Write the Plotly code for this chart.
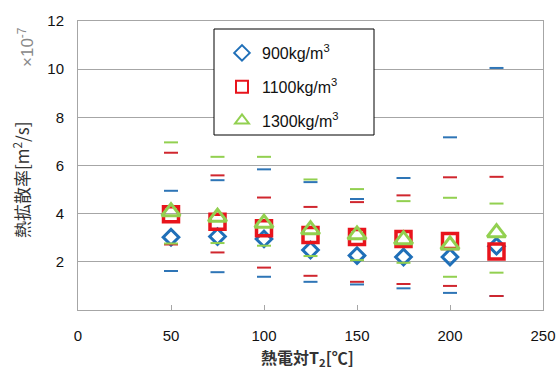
import plotly.graph_objects as go

# ---- data (values x 1e-7 m^2/s) ----
temps = [50, 75, 100, 125, 150, 175, 200, 225]

d900 = [3.02, 3.05, 2.95, 2.49, 2.26, 2.20, 2.20, 2.65]
d900_hi = [4.95, 5.39, 5.84, 5.31, 4.61, 5.48, 7.17, 10.05]
d900_lo = [1.62, 1.57, 1.38, 1.17, 1.06, 0.90, 0.71, 0.58]

d1100 = [3.98, 3.66, 3.39, 3.11, 3.03, 2.95, 2.87, 2.43]
d1100_hi = [6.53, 5.59, 4.67, 4.28, 4.48, 4.76, 5.51, 5.53]
d1100_lo = [2.72, 2.39, 1.76, 1.42, 1.17, 1.08, 1.00, 0.58]

d1300 = [4.08, 3.85, 3.60, 3.33, 3.12, 2.92, 2.70, 3.21]
d1300_hi = [6.96, 6.36, 6.36, 5.42, 5.02, 4.52, 4.66, 4.42]
d1300_lo = [2.76, 2.78, 2.67, 2.24, 2.07, 1.96, 1.38, 1.55]

names = ["900kg/m<sup>3</sup>", "1100kg/m<sup>3</sup>", "1300kg/m<sup>3</sup>"]
x_ticks = [0, 50, 100, 150, 200, 250]
y_ticks = [2, 4, 6, 8, 10, 12]

series = [
    (names[0], d900, d900_hi, d900_lo, "diamond-open", 12, 3, "#1F6FB8", "#2E75B6"),
    (names[1], d1100, d1100_hi, d1100_lo, "square-open", 15, 3.5, "#E8141C", "#D0262E"),
    (names[2], d1300, d1300_hi, d1300_lo, "triangle-up-open", 16, 3, "#92D050", "#92D050"),
]

fig = go.Figure()
for i, (nm, v, hi, lo, sym, sz, lw, col, ecol) in enumerate(series):
    fig.add_trace(go.Scatter(
        x=temps + temps, y=hi + lo, mode="markers", showlegend=False,
        hoverinfo="skip",
        marker=dict(symbol="line-ew", size=10, line=dict(width=2, color=ecol)),
    ))
    fig.add_trace(go.Scatter(
        x=temps, y=v, mode="markers", name=nm, legendgroup=f"g{i}",
        marker=dict(symbol=sym, size=sz, color=col, line=dict(width=lw, color=col)),
    ))

L, R, T, B = 78, 16, 21, 62
W, H = 559, 372
pw, ph = W - L - R, H - T - B

def px(x):
    return (x - L) / pw

def py(y):
    return (H - B - y) / ph

fig.update_layout(
    width=W, height=H,
    margin=dict(l=L, r=R, t=T, b=B, autoexpand=False),
    paper_bgcolor="white", plot_bgcolor="white",
    font=dict(family="Liberation Sans", size=15, color="#111111"),
    showlegend=True,
    legend=dict(
        x=px(222), y=py(36), xanchor="left", yanchor="top",
        bgcolor="rgba(0,0,0,0)", borderwidth=0,
        traceorder="grouped", tracegroupgap=10, itemwidth=30,
        font=dict(family="Liberation Sans", size=16, color="#111111"),
        itemsizing="constant",
    ),
    shapes=[dict(
        type="rect", xref="paper", yref="paper",
        x0=px(214), x1=px(374), y0=py(135), y1=py(29),
        line=dict(color="#000000", width=1), fillcolor="white", layer="above",
    )],
    annotations=[
        dict(text="熱拡散率[m<sup>2</sup>/s]", xref="paper", yref="paper",
             x=px(21), y=py(180), xanchor="center", yanchor="middle",
             showarrow=False, textangle=-90,
             font=dict(family="Noto Sans CJK JP", size=17, color="#333333")),
        dict(text="×10<sup>-7</sup>", xref="paper", yref="paper",
             x=px(26), y=py(47), xanchor="center", yanchor="middle",
             showarrow=False, textangle=-90,
             font=dict(family="Liberation Sans", size=17, color="#888888")),
        dict(text="<b>熱電対T<sub>2</sub>[℃]</b>", xref="paper", yref="paper",
             x=px(307), y=py(358), xanchor="center", yanchor="middle",
             showarrow=False,
             font=dict(family="Noto Sans CJK JP", size=16, color="#333333")),
    ],
)

fig.update_xaxes(
    range=[0, 250], tickvals=x_ticks, ticktext=[str(t) for t in x_ticks],
    showgrid=False, zeroline=False, automargin=False,
    showline=True, linecolor="#A6A6A6", linewidth=1, mirror=True,
    ticks="inside", ticklen=5, tickcolor="#A6A6A6",
    ticklabelstandoff=12,
    tickfont=dict(family="Liberation Sans", size=15, color="#111111"),
)
fig.update_yaxes(
    range=[0, 12], tickvals=y_ticks, ticktext=[str(t) for t in y_ticks],
    showgrid=True, gridcolor="#A6A6A6", gridwidth=1, zeroline=False,
    automargin=False,
    showline=True, linecolor="#A6A6A6", linewidth=1, mirror=True,
    ticks="", ticklabelstandoff=10,
    tickfont=dict(family="Liberation Sans", size=15, color="#111111"),
)

fig.write_html("out.html", config={"displayModeBar": False},
               post_script="document.body.style.margin='0';")
